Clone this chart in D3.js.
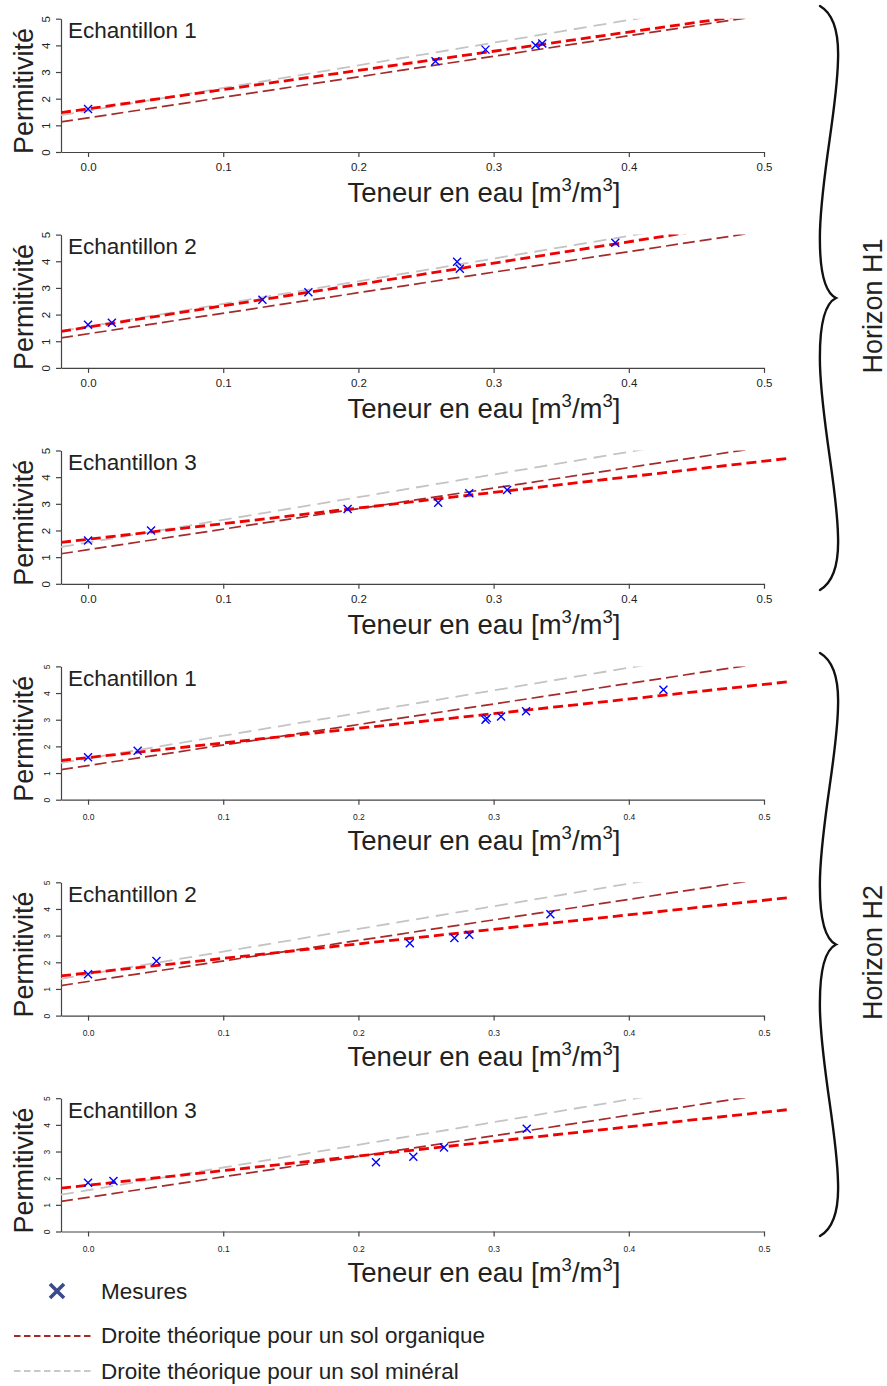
<!DOCTYPE html>
<html>
<head>
<meta charset="utf-8">
<script src="https://cdn.jsdelivr.net/npm/d3@7"></script>
<style>
  body { margin: 0; background: #fff; }
  text { font-family: "Liberation Sans", Arial, Helvetica, sans-serif; fill: #222; }
</style>
</head>
<body>
<svg></svg>
<script>
const width = 887;
const height = 1386;

// one entry per panel, top to bottom
const sampleNames = ['Echantillon 1', 'Echantillon 2', 'Echantillon 3', 'Echantillon 1', 'Echantillon 2', 'Echantillon 3'];
const waterContent = [
  [0, 0.257, 0.294, 0.331, 0.336],
  [0, 0.0176, 0.129, 0.163, 0.273, 0.275, 0.390],
  [0, 0.0466, 0.192, 0.259, 0.282, 0.310],
  [0, 0.0367, 0.294, 0.295, 0.3055, 0.324, 0.4256],
  [0, 0.0506, 0.238, 0.271, 0.282, 0.342],
  [0, 0.0188, 0.213, 0.2406, 0.2633, 0.3245]
];
const permittivity = [
  [1.61, 3.40, 3.84, 4.00, 4.07],
  [1.62, 1.69, 2.56, 2.84, 3.98, 3.72, 4.69],
  [1.62, 2.00, 2.81, 3.04, 3.40, 3.52],
  [1.59, 1.84, 3.00, 3.06, 3.12, 3.32, 4.12],
  [1.55, 2.05, 2.71, 2.91, 3.03, 3.80],
  [1.83, 1.89, 2.60, 2.80, 3.15, 3.85]
];
const fitIntercept = [1.62, 1.53, 1.67, 1.58, 1.60, 1.735];
const fitSlope = [7.2, 8.0, 5.86, 5.49, 5.45, 5.48];

// theoretical lines [intercept, slope], same in every panel
const organicLine = [1.28, 7.7];
const mineralLine = [1.55, 8.5];

const xTicks = [0, 0.1, 0.2, 0.3, 0.4, 0.5];
const xTickLabels = ['0.0', '0.1', '0.2', '0.3', '0.4', '0.5'];
const yTicks = [0, 1, 2, 3, 4, 5];
const yTickLabels = ['0', '1', '2', '3', '4', '5'];
const horizons = ['Horizon H1', 'Horizon H2'];
const legendLabels = ['Mesures', 'Droite théorique pour un sol organique', 'Droite théorique pour un sol minéral'];

const svg = d3.select('svg')
  .attr('width', width)
  .attr('height', height);

const panelBottom0 = 152;
const panelStep = 215.9;
const panelHeight = 133.3;

const x = d3.scaleLinear().domain([-0.02, 0.5]).range([61, 764]);

const line = d3.line()
  .x((d) => x(d[0]))
  .y((d) => d[1]);

function drawPanel(i) {
  const bottom = panelBottom0 + panelStep * i;
  const small = i >= 3;
  const y = d3.scaleLinear().domain([0, 5]).range([bottom, bottom - panelHeight]);
  const g = svg.append('g');

  g.append('clipPath')
    .attr('id', 'clip' + i)
    .append('rect')
    .attr('x', x(-0.02))
    .attr('y', y(5))
    .attr('width', x(0.52) - x(-0.02))
    .attr('height', panelHeight + 20);

  // axes
  const yAxis = g.append('g')
    .attr('transform', `translate(${x(-0.02)},0)`)
    .call(d3.axisLeft(y).tickValues(yTicks).tickFormat((d, k) => yTickLabels[k]).tickSize(5).tickSizeOuter(0));
  yAxis.selectAll('.tick text')
    .attr('transform', 'rotate(-90)')
    .attr('x', 0)
    .attr('y', -11)
    .attr('dy', 0)
    .attr('text-anchor', 'middle')
    .style('font-size', small ? '8.5px' : '11.5px');

  const xAxis = g.append('g')
    .attr('transform', `translate(0,${bottom})`)
    .call(d3.axisBottom(x).tickValues(xTicks).tickFormat((d, k) => xTickLabels[k]).tickSize(5).tickSizeOuter(0));
  xAxis.selectAll('.tick text')
    .attr('y', small ? 20 : 19)
    .attr('dy', 0)
    .style('font-size', small ? '8.5px' : '11.5px');

  g.selectAll('.domain, .tick line').attr('stroke', '#444').attr('stroke-width', 1.2);
  g.selectAll('.tick text').attr('fill', '#222').style('font-family', '"Liberation Sans", Arial, sans-serif');

  // lines
  const lines = g.append('g').attr('clip-path', `url(#clip${i})`);
  const ends = [-0.02, 0.52];
  const mk = (a, b) => ends.map((t) => [t, y(a + b * t)]);

  lines.append('path')
    .attr('d', line(mk(mineralLine[0], mineralLine[1])))
    .attr('fill', 'none')
    .attr('stroke', '#c4c4c4')
    .attr('stroke-width', 1.8)
    .attr('stroke-dasharray', '13,7');

  lines.append('path')
    .attr('d', line(mk(organicLine[0], organicLine[1])))
    .attr('fill', 'none')
    .attr('stroke', '#a52a2a')
    .attr('stroke-width', 1.7)
    .attr('stroke-dasharray', '12,5');

  lines.append('path')
    .attr('d', line(mk(fitIntercept[i], fitSlope[i])))
    .attr('fill', 'none')
    .attr('stroke', '#f00000')
    .attr('stroke-width', 2.8)
    .attr('stroke-dasharray', '10,5');

  // measurements
  const pts = waterContent[i].map((w, k) => [w, permittivity[i][k]]);
  g.append('g').selectAll('path')
    .data(pts)
    .enter().append('path')
    .attr('d', (d) => {
      const cx = x(d[0]);
      const cy = y(d[1]);
      const s = 4;
      return `M${cx - s},${cy - s}L${cx + s},${cy + s}M${cx - s},${cy + s}L${cx + s},${cy - s}`;
    })
    .attr('stroke', '#0000ff')
    .attr('stroke-width', 1.4)
    .attr('fill', 'none');

  // labels
  g.append('text')
    .attr('x', 68)
    .attr('y', bottom - 114)
    .style('font-size', '22.5px')
    .text(sampleNames[i]);

  g.append('text')
    .attr('transform', `translate(33,${bottom - 61}) rotate(-90)`)
    .attr('text-anchor', 'middle')
    .style('font-size', '27px')
    .text('Permitivité');

  const title = g.append('text')
    .attr('x', 484)
    .attr('y', bottom + 50)
    .attr('text-anchor', 'middle')
    .style('font-size', '27.5px');
  title.append('tspan').text('Teneur en eau [m');
  title.append('tspan').attr('dy', -11).style('font-size', '18.5px').text('3');
  title.append('tspan').attr('dy', 11).text('/m');
  title.append('tspan').attr('dy', -11).style('font-size', '18.5px').text('3');
  title.append('tspan').attr('dy', 11).text(']');
}

d3.range(6).forEach(drawPanel);

// braces on the right
function brace(y0, y1) {
  const h = y1 - y0;
  const p = (t) => y0 + t * h;
  return `M820,${p(0)} C834,${p(0.014)} 839,${p(0.048)} 838,${p(0.093)}` +
    ` C837,${p(0.178)} 822,${p(0.281)} 820,${p(0.384)}` +
    ` C819,${p(0.452)} 824,${p(0.49)} 836,${p(0.5)}` +
    ` C824,${p(0.51)} 819,${p(0.548)} 820,${p(0.616)}` +
    ` C822,${p(0.719)} 837,${p(0.822)} 838,${p(0.907)}` +
    ` C839,${p(0.952)} 834,${p(0.986)} 820,${p(1)}`;
}

const braceSpans = [[6, 590], [653, 1236]];
braceSpans.forEach((s, k) => {
  svg.append('path')
    .attr('d', brace(s[0], s[1]))
    .attr('fill', 'none')
    .attr('stroke', '#111')
    .attr('stroke-width', 2.4)
    .attr('stroke-linecap', 'round');

  svg.append('text')
    .attr('transform', `translate(882,${(s[0] + s[1]) / 2 + 8}) rotate(-90)`)
    .attr('text-anchor', 'middle')
    .style('font-size', '27px')
    .text(horizons[k]);
});

// legend
const legend = svg.append('g');
legend.append('path')
  .attr('d', 'M50,1284L64,1298M50,1298L64,1284')
  .attr('stroke', '#3b4a8c')
  .attr('stroke-width', 3.6);
legend.append('text').attr('x', 101).attr('y', 1298.5).style('font-size', '22.5px').text(legendLabels[0]);

legend.append('line')
  .attr('x1', 14).attr('x2', 94).attr('y1', 1336).attr('y2', 1336)
  .attr('stroke', '#a52a2a').attr('stroke-width', 2).attr('stroke-dasharray', '6.5,3.5');
legend.append('text').attr('x', 101).attr('y', 1343).style('font-size', '22.5px').text(legendLabels[1]);

legend.append('line')
  .attr('x1', 14).attr('x2', 94).attr('y1', 1371).attr('y2', 1371)
  .attr('stroke', '#c8c8c8').attr('stroke-width', 2).attr('stroke-dasharray', '6.5,3.5');
legend.append('text').attr('x', 101).attr('y', 1378.5).style('font-size', '22.5px').text(legendLabels[2]);
</script>
</body>
</html>
